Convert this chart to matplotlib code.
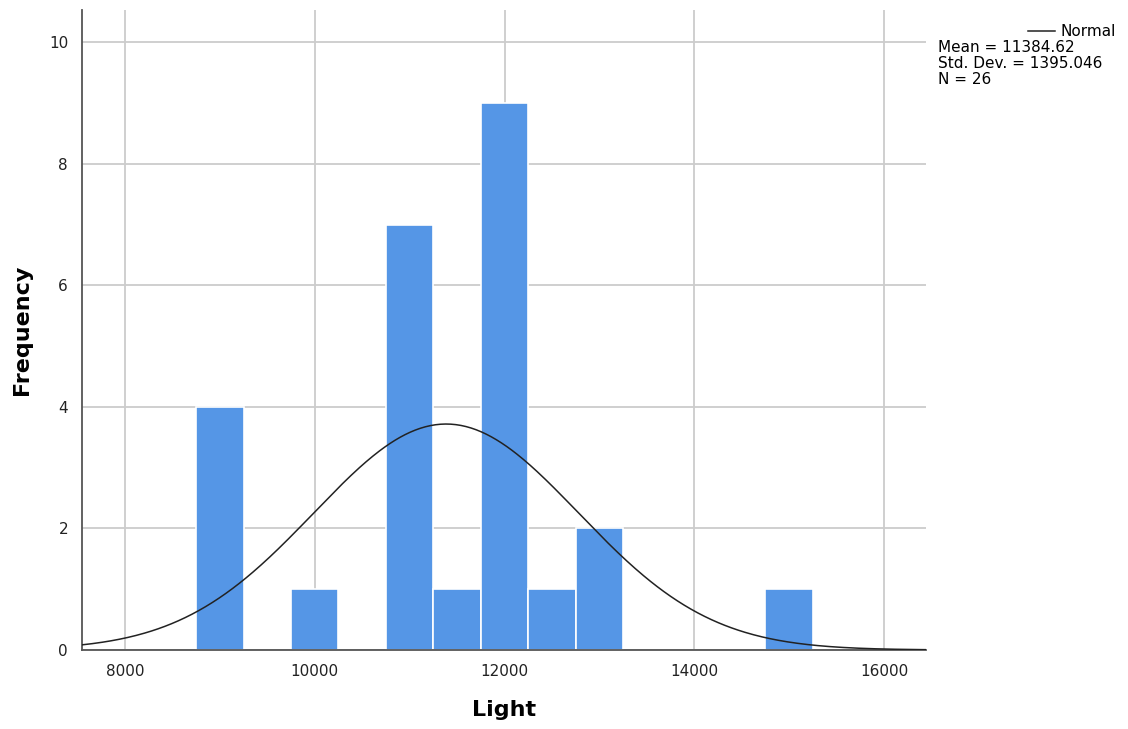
import numpy as np
import matplotlib.pyplot as plt

# histogram bins (width 500) and counts
bin_left = [8750, 9750, 10750, 11250, 11750, 12250, 12750, 14750]
counts = [4, 1, 7, 1, 9, 1, 2, 1]
bin_width = 500

mean = 11384.62
std = 1395.046
n = 26

xticks = [8000, 10000, 12000, 14000, 16000]
yticks = [0, 2, 4, 6, 8, 10]

fig = plt.figure(figsize=(11.28, 7.29), dpi=100)
ax = fig.add_axes([0.0727, 0.1084, 0.7483, 0.8779])

ax.bar(bin_left, counts, width=bin_width, align='edge', color='#5596e6',
       edgecolor='white', linewidth=1.2, zorder=2)

# normal curve scaled to counts
xs = np.linspace(7547, 16443, 500)
ys = n * bin_width * np.exp(-0.5 * ((xs - mean) / std) ** 2) / (std * np.sqrt(2 * np.pi))
ax.plot(xs, ys, color='#222222', linewidth=1.1, zorder=3)

ax.set_xlim(7547, 16443)
ax.set_ylim(0, 10.53)
ax.set_xticks(xticks)
ax.set_yticks(yticks)
ax.grid(True, color='#cccccc', linewidth=1.3, zorder=0)
ax.set_axisbelow(True)
ax.tick_params(length=0, labelsize=11, pad=10, colors='#222222')

for side in ['top', 'right']:
    ax.spines[side].set_visible(False)
for side in ['left', 'bottom']:
    ax.spines[side].set_color('#555555')
    ax.spines[side].set_linewidth(1.3)

ax.set_xlabel('Light', fontsize=16, fontweight='bold')
ax.set_ylabel('Frequency', fontsize=16, fontweight='bold')
ax.xaxis.set_label_coords(0.5, -0.094)
ax.yaxis.set_label_coords(-0.071, 0.5)
ax.xaxis.label.set_va('center')
ax.yaxis.label.set_va('center')

# legend / stats box on the right
fig.add_artist(plt.Line2D([1028 / 1128, 1055 / 1128], [1 - 31 / 729, 1 - 31 / 729],
                          color='#222222', linewidth=1.1))
fig.text(1061 / 1128, 1 - 31 / 729, 'Normal', fontsize=11, va='center', ha='left')
stats = [f'Mean = {mean:.2f}', f'Std. Dev. = {std:.3f}', f'N = {n}']
for i, s in enumerate(stats):
    fig.text(938 / 1128, 1 - (47 + 16 * i) / 729, s, fontsize=11, va='center', ha='left')

fig.savefig('out.png', dpi=100)
